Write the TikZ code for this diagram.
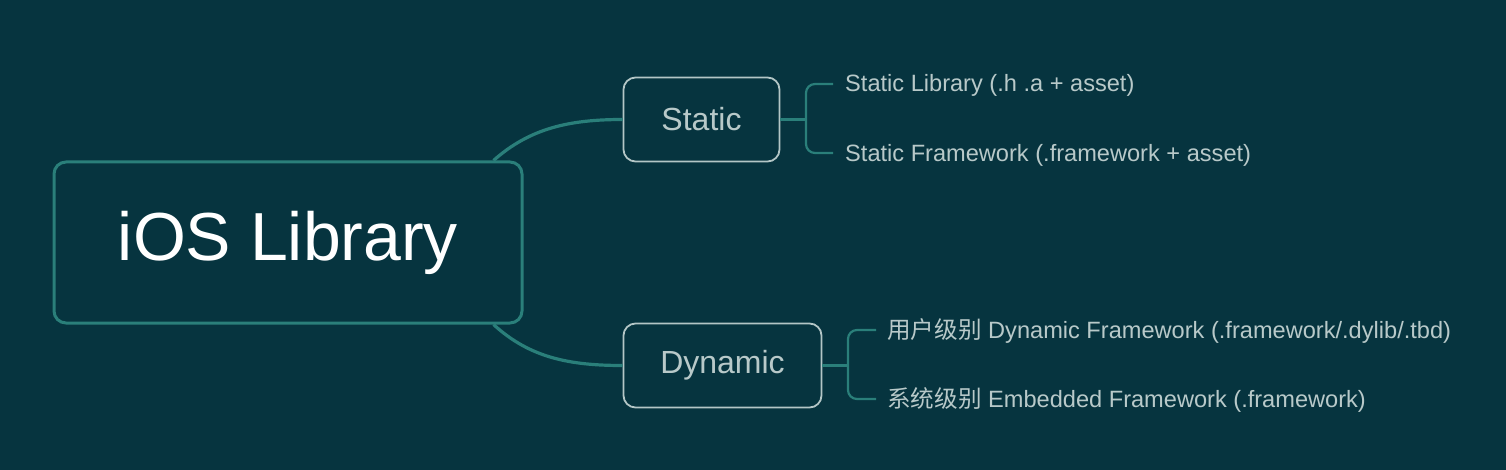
\documentclass[tikz,border=0pt]{standalone}
\usepackage{fontspec}
\setmainfont{Liberation Sans}
\newfontfamily\cjk{Noto Sans CJK SC}
\definecolor{bgc}{HTML}{06343F}
\definecolor{teal1}{HTML}{2A7F7A}
\definecolor{boxline}{HTML}{B3C6C6}
\definecolor{txt}{HTML}{B8C9C9}
\tikzset{
  rootbox/.style={draw=teal1, line width=3pt, rounded corners=12pt, minimum width=468pt, minimum height=161pt, text=white, font=\fontsize{68}{80}\selectfont, inner sep=0pt},
  midbox/.style={draw=boxline, line width=1.8pt, rounded corners=12pt, minimum height=84pt, text=txt, font=\fontsize{32}{38}\selectfont, inner sep=0pt},
  leaf/.style={anchor=base west, text=txt, font=\fontsize{23.6}{28}\selectfont, inner sep=0pt},
  thick1/.style={draw=teal1, line width=3.2pt},
  thin1/.style={draw=teal1, line width=2.2pt, rounded corners=9pt},
}
\begin{document}
\begin{tikzpicture}[x=1pt,y=-1pt]
\fill[bgc] (0,0) rectangle (1506,470);
\useasboundingbox (0,0) rectangle (1506,470);
\node[rootbox] (root) at (288,242.5) {iOS Library};
\node[midbox, minimum width=156pt] (st) at (701.5,119.5) {Static};
\node[midbox, minimum width=198pt] (dy) at (722.5,365.5) {Dynamic};
\node[leaf] (s1) at (845,92) {Static Library (.h .a + asset)};
\node[leaf] (s2) at (845,161.5) {Static Framework (.framework + asset)};
\node[leaf] (d1) at (887,338.5) {{\cjk 用户级别} Dynamic Framework (.framework/.dylib/.tbd)};
\node[leaf] (d2) at (887,407.5) {{\cjk 系统级别} Embedded Framework (.framework)};
\coordinate (sj) at (806,119.5);
\coordinate (dj) at (848,365.5);
\coordinate (s1e) at (833,84);
\coordinate (s2e) at (833,153);
\coordinate (d1e) at (876,330);
\coordinate (d2e) at (876,399);
\coordinate (rt) at ([xshift=-30pt]root.north east);
\coordinate (rb) at ([xshift=-30pt]root.south east);
\draw[thick1] (rt) .. controls (530,128) and (570,119.5) .. (st.west);
\draw[thick1] (rb) .. controls (530,358) and (570,365.5) .. (dy.west);
\draw[thin1] (st.east) -- (sj);
\draw[thin1] (s1e) -| (sj) |- (s2e);
\draw[thin1] (dy.east) -- (dj);
\draw[thin1] (d1e) -| (dj) |- (d2e);
\end{tikzpicture}
\end{document}
